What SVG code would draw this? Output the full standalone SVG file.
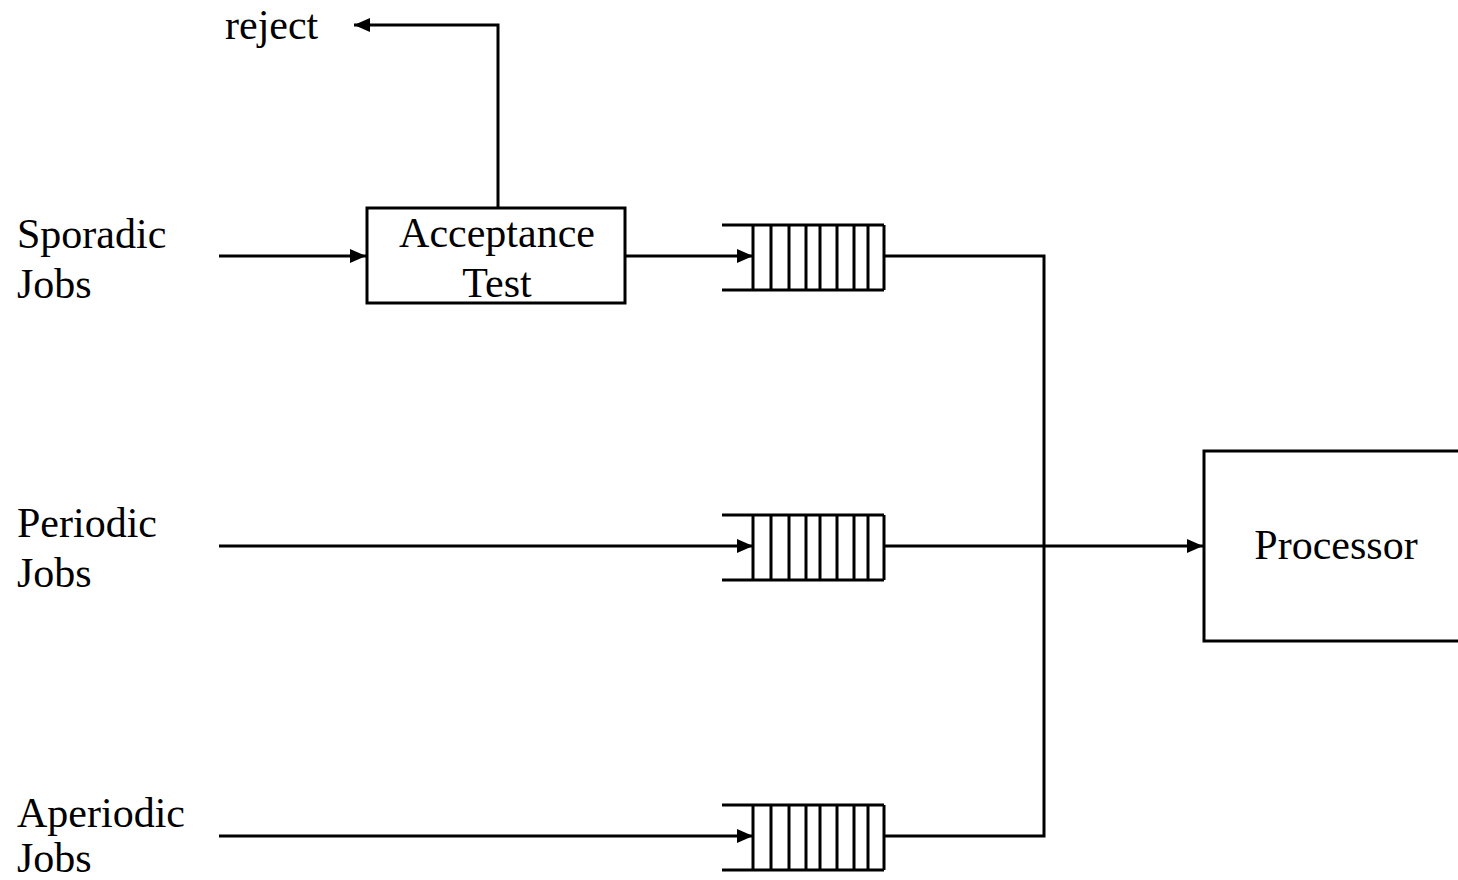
<svg xmlns="http://www.w3.org/2000/svg" width="1458" height="880" viewBox="0 0 1458 880">
  <style>
    .lbl { font-family: "Liberation Serif", "Times New Roman", serif; font-size: 42px; fill: #000; }
    .box { fill: #fff; stroke: #000; stroke-width: 3; }
    .wire { fill: none; stroke: #000; stroke-width: 3; }
    .q { fill: none; stroke: #000; stroke-width: 3; }
  </style>
  <defs>
    <marker id="arr" markerUnits="userSpaceOnUse" markerWidth="18" markerHeight="16" refX="16" refY="8" orient="auto">
      <path d="M0,1 L16,8 L0,15 Z" fill="#000"/>
    </marker>
    <g id="queue">
      <path class="q" d="M0,0 H162 M0,65 H162 M31,0 V65 M49,0 V65 M67,0 V65 M84,0 V65 M98,0 V65 M115,0 V65 M132,0 V65 M146,0 V65 M162,0 V65"/>
    </g>
  </defs>
  <rect width="1458" height="880" fill="#fff"/>

  <g id="connectors">
    <path class="wire" d="M498,208 V25 H354" marker-end="url(#arr)"/>
    <path class="wire" d="M219,256 H366" marker-end="url(#arr)"/>
    <path class="wire" d="M625,256 H753" marker-end="url(#arr)"/>
    <path class="wire" d="M219,546 H753" marker-end="url(#arr)"/>
    <path class="wire" d="M219,836 H753" marker-end="url(#arr)"/>
    <path class="wire" d="M884,256 H1044 V836 H884"/>
    <path class="wire" d="M884,546 H1203" marker-end="url(#arr)"/>
  </g>

  <g id="reject">
    <text class="lbl" x="225" y="39">reject</text>
  </g>

  <g id="sporadic">
    <text class="lbl" x="17" y="248">Sporadic</text>
    <text class="lbl" x="17" y="298">Jobs</text>
  </g>
  <g id="periodic">
    <text class="lbl" x="17" y="537">Periodic</text>
    <text class="lbl" x="17" y="587">Jobs</text>
  </g>
  <g id="aperiodic">
    <text class="lbl" x="17" y="827">Aperiodic</text>
    <text class="lbl" x="17" y="872">Jobs</text>
  </g>

  <g id="acceptance-test">
    <rect class="box" x="367" y="208" width="258" height="95"/>
    <text class="lbl" x="497" y="247" text-anchor="middle">Acceptance</text>
    <text class="lbl" x="497" y="297" text-anchor="middle">Test</text>
  </g>

  <g id="queue-sporadic"><use href="#queue" x="722" y="225"/></g>
  <g id="queue-periodic"><use href="#queue" x="722" y="515"/></g>
  <g id="queue-aperiodic"><use href="#queue" x="722" y="805"/></g>

  <g id="processor">
    <rect class="box" x="1204" y="451" width="300" height="190"/>
    <text class="lbl" x="1336" y="559" text-anchor="middle">Processor</text>
  </g>
</svg>
